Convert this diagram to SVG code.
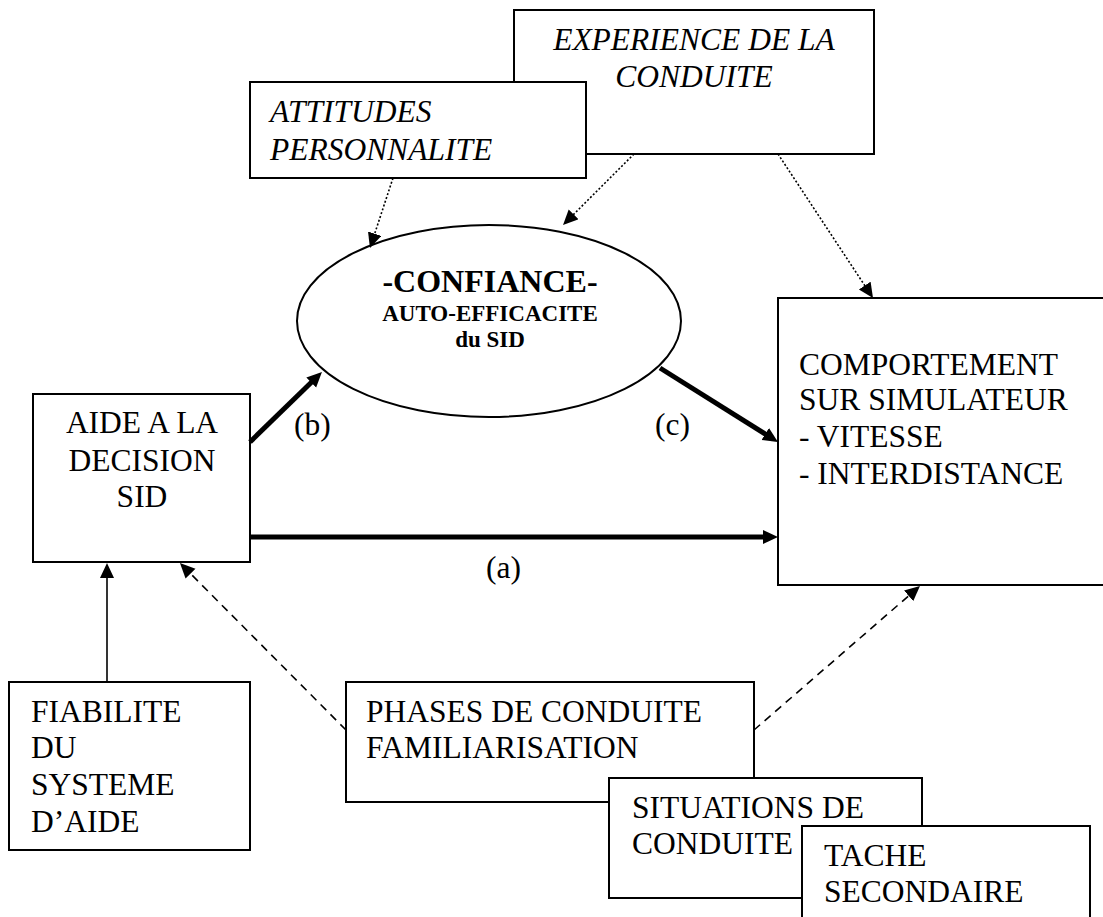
<svg xmlns="http://www.w3.org/2000/svg" width="1103" height="917" viewBox="0 0 1103 917" font-family="Liberation Serif, serif">
<style>
.box{fill:#fff;stroke:#000;stroke-width:2}
text{font-family:'Liberation Serif',serif;font-size:31.5px;fill:#000}
.it{font-style:italic}
.b{font-weight:bold}
.mid{text-anchor:middle}
.thick{fill:none;stroke:#000;stroke-width:5}
.thin{fill:none;stroke:#000;stroke-width:1.6}
.dash{fill:none;stroke:#000;stroke-width:1.6;stroke-dasharray:8 6}
.dot{fill:none;stroke:#000;stroke-width:1.6;stroke-dasharray:2 2}
</style>
<defs>
<marker id="ah" markerUnits="userSpaceOnUse" markerWidth="16" markerHeight="15" refX="5" refY="7" orient="auto" viewBox="0 0 16 15">
<path d="M0,0 L15,7 L0,14 z" fill="#000"/>
</marker>
</defs>
<rect width="1103" height="917" fill="#fff"/>

<g id="experience">
<rect class="box" x="514" y="10" width="360" height="144"/>
<text class="it mid" x="694" y="50">EXPERIENCE DE LA</text>
<text class="it mid" x="694" y="87">CONDUITE</text>
</g>
<g id="attitudes">
<rect class="box" x="250" y="82" width="336" height="96"/>
<text class="it" x="270" y="122">ATTITUDES</text>
<text class="it" x="270" y="160">PERSONNALITE</text>
</g>
<g id="confiance">
<ellipse cx="489" cy="321" rx="192" ry="96" fill="#fff" stroke="#000" stroke-width="2"/>
<text class="b mid" x="490" y="292" style="font-size:32px">-CONFIANCE-</text>
<text class="b mid" x="490" y="321" style="font-size:23px">AUTO-EFFICACITE</text>
<text class="b mid" x="490" y="347" style="font-size:23px">du SID</text>
</g>
<g id="aide">
<rect class="box" x="33" y="394" width="217" height="168"/>
<text class="mid" x="142" y="433">AIDE A LA</text>
<text class="mid" x="142" y="471">DECISION</text>
<text class="mid" x="142" y="507">SID</text>
</g>
<g id="comportement">
<rect class="box" x="778" y="298" width="340" height="287"/>
<text x="799" y="375">COMPORTEMENT</text>
<text x="799" y="410">SUR SIMULATEUR</text>
<text x="799" y="447">- VITESSE</text>
<text x="799" y="484">- INTERDISTANCE</text>
</g>
<g id="fiabilite">
<rect class="box" x="9" y="682" width="241" height="168"/>
<text x="31" y="722">FIABILITE</text>
<text x="31" y="758">DU</text>
<text x="31" y="795">SYSTEME</text>
<text x="31" y="832">D’AIDE</text>
</g>
<g id="phases">
<rect class="box" x="346" y="682" width="408" height="120"/>
<text x="366" y="722">PHASES DE CONDUITE</text>
<text x="366" y="758">FAMILIARISATION</text>
</g>
<g id="situations">
<rect class="box" x="609" y="778" width="313" height="120"/>
<text x="632" y="818">SITUATIONS DE</text>
<text x="632" y="854">CONDUITE</text>
</g>
<g id="tache">
<rect class="box" x="802" y="826" width="288" height="110"/>
<text x="824" y="866">TACHE</text>
<text x="824" y="902">SECONDAIRE</text>
</g>

<g id="connectors">
<path class="thick" d="M250,442 L314.8,379" marker-end="url(#ah)"/>
<path class="thick" d="M660,368 L769.5,436.7" marker-end="url(#ah)"/>
<path class="thick" d="M250,537 L768,537" marker-end="url(#ah)"/>
<path class="thin" d="M107,682 L107,573" marker-end="url(#ah)"/>
<path class="dash" d="M346,730 L187,570.1" marker-end="url(#ah)"/>
<path class="dash" d="M754,730 L912.4,592.6" marker-end="url(#ah)"/>
<path class="dot" d="M393,178 L373.1,238.5" marker-end="url(#ah)"/>
<path class="dot" d="M634,154 L570.1,217.9" marker-end="url(#ah)"/>
<path class="dot" d="M778,154 L867.5,289.7" marker-end="url(#ah)"/>
</g>
<g id="labels">
<text x="294" y="435">(b)</text>
<text x="655" y="435">(c)</text>
<text x="486" y="578">(a)</text>
</g>
</svg>
